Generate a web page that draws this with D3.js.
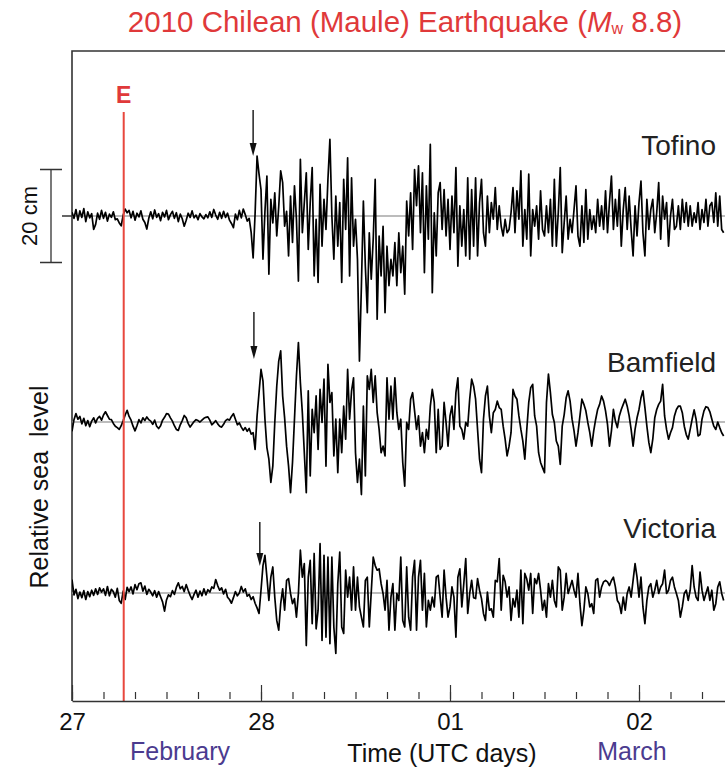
<!DOCTYPE html>
<html>
<head>
<meta charset="utf-8">
<script src="https://cdn.jsdelivr.net/npm/d3@7"></script>
<style>
  body { margin: 0; background: #fff; }
  svg { display: block; font-family: "Liberation Sans", Arial, sans-serif; }
</style>
</head>
<body>
<svg id="chart" width="725" height="770"></svg>
<script>
// Tide gauge records, sea level anomaly in cm, one sample every 15 min from 27 Feb 2010 00:00 UTC
var startTime = Date.UTC(2010, 1, 27, 0, 0);
var stepMinutes = 15;

var tofino = [
  0.8,-0.5,1.4,-0.9,1.1,-0.3,1.6,-1.2,0.9,-0.4,
  0.5,-2.9,-1.8,0.6,-0.7,1.2,-0.5,0.8,-1.1,0.4,
  -0.3,0.9,-0.8,-0.6,-1.5,-2.1,0.2,1.5,0.7,1.2,
  -0.4,1.0,-0.9,0.6,-0.2,1.1,-0.7,-1.4,-2.8,-0.5,
  0.9,-0.6,1.3,-0.3,0.5,-1.0,0.8,-0.2,1.2,-0.8,
  0.3,1.0,-0.5,0.7,-1.2,0.4,-0.6,-2.2,-0.9,0.6,
  -0.3,1.1,-0.4,0.2,-0.8,0.5,-0.2,-0.6,0.3,-0.4,
  0.9,-0.3,1.4,0.2,-0.7,0.8,-0.5,1.0,-0.3,0.6,
  -0.9,-1.6,-2.5,0.4,-0.8,1.2,-0.4,1.5,0.3,-1.1,
  -0.5,-3.5,-9.0,0.5,12.9,9.0,5.7,-9.3,1.0,8.6,
  -12.5,3.6,-1.5,5.0,-4.3,2.0,9.7,7.2,-2.2,1.0,
  -8.6,4.3,-5.7,6.5,-0.7,-14.0,12.2,-3.6,2.9,9.3,
  -7.2,2.9,10.4,-12.9,-0.7,-14.3,6.8,-6.5,3.6,-2.9,
  7.9,16.5,0,-9.3,4.3,-6.5,2.9,-14.3,7.9,-2.9,
  12.5,-12.9,8.2,-6.5,-0.7,-9.3,-31.2,-15.0,3.2,-10.8,
  -20.8,-3.6,-13.6,-5.0,7.9,-22.2,-4.3,-12.9,-2.2,-20.8,
  -6.5,-15.0,-9.3,-12.9,-5.7,-15.0,-3.6,-12.2,-6.5,-16.8,
  3.2,-4.3,5.0,-7.2,10.0,2.2,10.8,-3.6,9.3,-12.2,
  6.5,-5.0,15.4,-16.5,0.7,-8.6,5.0,7.2,-2.9,5.7,
  -4.3,3.6,-7.2,4.3,-3.6,10.4,-10.8,2.2,-6.5,1.4,
  -8.6,8.2,-9.3,5.7,-6.5,8.2,-8.6,2.9,7.9,-3.6,
  -6.5,4.3,-3.6,2.9,-0.7,6.1,-2.9,2.2,-2.2,-4.3,
  -0.7,-3.6,-2.9,0.7,6.1,-3.6,5.4,-0.7,9.7,-6.5,
  1.4,-5.0,9.0,-8.6,1.4,-2.2,2.2,-5.0,5.4,-2.9,
  -4.3,2.2,-3.6,3.6,-6.5,7.9,-6.5,0.7,10.4,-7.9,
  -1.4,4.3,-5.0,-0.7,-3.6,1.4,6.5,-4.3,-6.5,2.2,
  -5.7,5.7,-5.0,1.4,-2.9,0,-3.6,3.6,-2.2,2.2,
  -2.9,5.4,-3.6,2.9,8.6,-2.9,3.6,-2.2,5.7,-6.5,
  1.4,6.1,-2.9,4.3,-2.9,-8.6,2.2,-4.3,2.9,7.5,
  -3.6,-8.6,3.6,-2.9,1.4,3.6,-3.6,0.7,7.2,-5.0,
  4.3,-0.7,2.9,-6.5,0,3.6,-2.9,-2.2,2.2,-2.9,
  3.6,-1.4,2.9,-2.2,2.2,-2.2,0.7,-1.4,2.9,-2.9,
  1.4,-1.4,3.6,-2.2,2.2,2.9,-1.4,5.0,-2.2,4.3,
  -2.9,-3.6
];

var bamfield = [
  -2.0,0.5,1.8,0.6,1.2,-0.4,0.8,-0.8,0.3,-1.0,
  0.2,0.9,-0.2,0.8,1.2,0.4,1.5,2.2,1.4,0.6,
  0.5,-0.3,-0.9,-1.2,-1.6,-0.8,0.3,1.5,2.5,1.2,
  0.4,-0.9,-1.9,-0.8,0.5,-0.2,0.9,0.3,1.1,0.5,
  0.2,-0.5,0.4,-0.9,-1.4,-0.8,0.4,1.0,1.8,1.7,
  0.9,0.2,-0.8,-1.6,-1.8,-0.6,0.3,1.4,0.9,-0.3,
  -1.1,-0.5,0.1,0.5,0.3,0.0,0.4,0.8,1.0,1.1,
  0.4,-0.6,-0.2,0.3,-0.4,-0.9,-1.1,-0.5,0.3,0.6,
  0.4,1.2,1.8,0.6,-0.6,-0.2,-1.1,-1.8,-1.2,-2.0,
  -1.4,-2.6,-2.3,-5.9,1.3,6.3,11.3,8.8,0.6,-5.5,
  -8.0,-13.0,-9.5,-0.1,7.7,13.1,15.3,5.6,0.9,-5.2,
  -9.5,-15.2,-8.7,0.6,9.9,17.1,8.5,2.0,-6.6,-15.2,
  6.7,-11.6,2.7,-2.3,5.6,-5.9,7.0,-0.1,9.2,-9.5,
  12.4,4.2,6.3,-7.3,0.6,-10.9,0.6,-6.6,3.4,-3.7,
  11.3,0.6,6.7,9.5,-6.6,-13.0,-8.0,-15.6,3.4,-11.6,
  9.9,7.0,11.3,4.2,9.9,2.0,-1.6,-6.6,-5.2,-7.3,
  9.5,0.6,7.7,0.6,9.5,2.0,-1.6,0.6,-8.7,-13.8,
  -0.1,-1.6,4.9,6.3,2.4,-1.6,1.3,-5.2,-2.3,-6.6,
  -1.6,-3.7,3.4,7.0,4.2,-6.6,2.7,-5.9,-5.2,4.2,
  -0.1,-5.2,1.3,3.4,-1.6,6.3,9.5,-0.9,-1.6,-3.7,
  -0.1,-0.9,4.9,9.2,7.7,4.9,-1.6,-8.0,-10.9,0.6,
  5.6,7.7,1.3,-2.3,2.0,2.7,4.5,3.1,2.7,-0.9,
  -3.7,-7.3,-5.2,-2.3,7.0,5.6,4.9,1.3,-1.6,-4.1,
  -8.0,-1.6,4.2,7.4,8.1,1.3,-0.9,-6.6,-8.7,-9.8,
  -10.9,4.2,10.3,6.3,1.6,-0.1,-4.1,-5.2,-9.1,-0.9,
  1.6,5.2,6.7,4.5,0.6,-1.9,-5.2,-2.3,1.3,4.9,
  3.8,2.4,-0.1,-2.3,-5.2,-1.9,0.6,2.7,3.8,5.6,
  4.5,2.4,-0.5,-5.2,-1.9,2.7,0.2,-1.2,1.3,2.7,
  3.8,4.9,3.4,1.3,-1.6,-5.2,-1.6,0.9,2.7,5.2,
  6.7,3.1,-0.9,-4.4,-6.6,-3.7,0.9,2.7,3.8,4.5,
  8.1,1.3,-1.6,-3.7,-2.3,-1.2,1.3,2.7,3.4,3.4,
  2.0,-0.9,-2.7,-3.7,-1.6,0.6,2.6,0.6,-3.0,-2.7,
  0.6,2.4,3.3,3.1,2.2,0.6,-0.9,-1.6,0,-1.2,
  -2.3,-3.0
];

var victoria = [
  2.9,-0.4,0.8,-1.2,0.2,-1.0,0.5,-1.4,0.3,-0.8,
  0.6,-0.5,0.9,-0.3,1.1,0.2,0.9,-0.5,1.4,-0.6,
  0.8,0.3,-0.9,1.0,-1.6,-2.2,0.4,-1.4,1.2,0.3,
  1.3,-0.2,1.8,0.7,2.0,2.2,0.4,1.5,-0.3,0.8,
  0.2,-0.6,0.5,-0.9,0.3,-0.8,-1.9,-3.9,-1.5,-0.4,
  -0.8,0.5,-0.3,1.2,2.2,0.9,1.4,0.3,1.8,0.6,
  -0.5,-1.4,-0.3,0.6,-0.9,0.4,-0.6,0.9,-0.4,0.7,
  0.2,1.3,1.0,2.9,1.6,0.6,1.1,-0.2,0.8,-0.9,
  -1.4,-2.2,-1.0,0.3,-0.6,0.0,1.4,0.2,0.9,-0.7,
  -0.3,-1.4,-0.8,-2.2,-3.2,-4.4,0.6,5.9,8.1,3.4,
  -1.6,3.4,5.6,-0.9,-5.9,-8.0,-2.3,0.9,-3.7,2.7,
  3.1,-0.1,-2.3,-1.2,-5.2,-0.1,9.2,3.4,6.3,-11.3,
  3.4,7.0,-6.6,8.5,-7.7,-3.7,10.6,-10.2,8.1,-9.5,
  7.7,-10.9,7.7,-7.3,-13.0,2.0,8.8,-7.3,-8.7,4.9,
  -0.9,3.4,-3.7,5.6,-3.7,3.4,-3.0,-5.2,-7.3,2.7,
  3.4,-7.3,0.2,7.7,5.9,4.9,5.2,2.0,-0.1,-3.7,
  2.7,-8.0,-0.9,2.0,-8.0,-0.1,-1.6,7.7,-5.9,-7.3,
  5.6,-5.2,-8.0,3.4,7.0,-8.0,3.4,7.0,-3.7,4.2,
  -7.3,-1.6,-3.7,-0.9,-3.0,3.4,3.8,-0.9,-5.2,4.9,
  -0.9,-5.2,-3.0,1.3,-0.9,-9.5,3.4,5.2,-3.0,2.0,
  7.4,-4.4,-0.1,2.7,-1.0,-1.2,3.1,0.6,-1.2,-4.4,
  -5.9,0.2,-3.7,-3.4,-5.2,2.7,2.4,7.4,-3.7,3.8,
  2.4,-0.9,1.3,-5.9,-1.2,-3.0,0.6,-5.2,4.9,-6.6,
  4.2,3.0,0.6,4.2,-4.4,3.1,2.0,4.2,0.6,-3.7,
  -1.6,-5.2,2.0,-0.9,2.7,-1.6,-3.0,5.6,4.9,-3.7,
  -0.9,4.2,-0.1,1.3,2.7,0.6,-0.9,4.2,-2.3,-7.0,
  -3.7,1.3,-0.1,-3.0,-2.3,-4.4,2.7,3.1,-0.9,1.3,
  2.4,2.7,2.4,1.6,2.7,3.4,1.3,-1.6,-2.3,-4.4,
  -0.9,-3.7,-0.1,1.3,-0.9,2.7,6.3,3.4,-0.9,3.4,
  -3.0,-6.6,-1.6,1.3,2.0,-0.9,0.6,2.7,-0.1,1.3,
  2.0,4.9,-0.1,0.6,2.7,3.4,1.3,-0.1,-1.6,-5.2,
  -3.0,-0.1,0.6,-1.6,0.6,5.9,1.3,-0.9,-1.6,4.5,
  0.6,-1.6,-0.1,1.3,-1.6,0.6,-3.7,-2.3,1.3,2.4,
  -0.1,-1.6
];

var stationNames = ["Tofino", "Bamfield", "Victoria"];
var stationSeries = [tofino, bamfield, victoria];
// first tsunami wave arrival, hours after 27 Feb 00:00 UTC
var arrivalHours = [23.0, 23.1, 23.85];
// Maule earthquake origin time, 06:34 UTC
var quakeTime = Date.UTC(2010, 1, 27, 6, 34);
var scaleBarCm = 20;

// layout
var plotLeft = 72, plotRight = 725, plotTop = 51, axisY = 701;
var baselineY = [216, 422, 593];
var arrowTopY = [110, 312, 522];
var arrowTipY = [156, 359, 566];
var labelY = [155, 372, 538];

var svg = d3.select("#chart");

var x = d3.scaleUtc()
    .domain([new Date(startTime), new Date(Date.UTC(2010, 2, 2, 11, 0))])
    .range([plotLeft, plotLeft + 189 * (3 + 11 / 24)]);

// relative level: 20 cm spans 93 px
var amp = d3.scaleLinear().domain([0, scaleBarCm]).range([0, -93]);

function timeAt(i) { return new Date(startTime + i * stepMinutes * 60000); }

// Title
var title = svg.append("text")
    .attr("x", 405).attr("y", 32)
    .attr("text-anchor", "middle")
    .attr("font-size", 29.5)
    .attr("fill", "#e0393a");
title.append("tspan").text("2010 Chilean (Maule) Earthquake (");
title.append("tspan").attr("font-style", "italic").text("M");
title.append("tspan").attr("font-size", 16).attr("dy", 2).text("w");
title.append("tspan").attr("dy", -2).text(" 8.8)");

svg.append("clipPath").attr("id", "plotClip")
  .append("rect")
    .attr("x", plotLeft).attr("y", plotTop)
    .attr("width", plotRight - plotLeft).attr("height", axisY - plotTop);

// Frame (left and top edges)
svg.append("path")
    .attr("d", "M" + plotRight + "," + plotTop + "H" + plotLeft + "V" + axisY)
    .attr("fill", "none")
    .attr("stroke", "#333")
    .attr("stroke-width", 1.6);

// Zero level reference lines
svg.selectAll(".zero")
    .data(baselineY)
  .enter().append("line")
    .attr("class", "zero")
    .attr("x1", plotLeft).attr("x2", plotRight)
    .attr("y1", function(d) { return d; })
    .attr("y2", function(d) { return d; })
    .attr("stroke", "#a6a6a6")
    .attr("stroke-width", 1.6);

// Sea level traces
var plot = svg.append("g").attr("clip-path", "url(#plotClip)");

stationSeries.forEach(function(series, s) {
  var line = d3.line()
      .x(function(d, i) { return x(timeAt(i)); })
      .y(function(d) { return baselineY[s] + amp(d); });

  plot.append("path")
      .datum(series)
      .attr("d", line)
      .attr("fill", "none")
      .attr("stroke", "#000")
      .attr("stroke-width", 1.7)
      .attr("stroke-linejoin", "round");
});

// Earthquake marker
var xq = x(new Date(quakeTime));
svg.append("line")
    .attr("x1", xq).attr("x2", xq)
    .attr("y1", 112).attr("y2", axisY)
    .attr("stroke", "#e8473d")
    .attr("stroke-width", 2);

svg.append("text")
    .attr("x", xq).attr("y", 103)
    .attr("text-anchor", "middle")
    .attr("font-size", 23)
    .attr("font-weight", "bold")
    .attr("fill", "#e0393a")
    .text("E");

// Arrival arrows
arrivalHours.forEach(function(h, s) {
  var ax = x(new Date(startTime + h * 3600000));
  svg.append("line")
      .attr("x1", ax).attr("x2", ax)
      .attr("y1", arrowTopY[s]).attr("y2", arrowTipY[s] - 8)
      .attr("stroke", "#111")
      .attr("stroke-width", 1.4);
  svg.append("path")
      .attr("d", "M" + (ax - 3.5) + "," + (arrowTipY[s] - 13) +
                 "L" + (ax + 3.5) + "," + (arrowTipY[s] - 13) +
                 "L" + ax + "," + arrowTipY[s] + "Z")
      .attr("fill", "#111");
});

// Station names
svg.selectAll(".station")
    .data(stationNames)
  .enter().append("text")
    .attr("class", "station")
    .attr("x", 716)
    .attr("y", function(d, i) { return labelY[i]; })
    .attr("text-anchor", "end")
    .attr("font-size", 28)
    .attr("fill", "#222")
    .text(function(d) { return d; });

// Time axis: 4-hour minor ticks, daily major ticks, drawn inward
var minorAxis = d3.axisBottom(x)
    .ticks(d3.utcHour.every(4))
    .tickSize(-7)
    .tickSizeOuter(0)
    .tickFormat("");

var majorAxis = d3.axisBottom(x)
    .ticks(d3.utcDay.every(1))
    .tickSize(-16)
    .tickSizeOuter(0)
    .tickPadding(10)
    .tickFormat(d3.utcFormat("%d"));

var gMinor = svg.append("g").attr("transform", "translate(0," + (axisY - 2) + ")").call(minorAxis);
gMinor.select(".domain").remove();
gMinor.selectAll(".tick line").attr("stroke", "#333").attr("stroke-width", 1.2);

var gMajor = svg.append("g").attr("transform", "translate(0," + axisY + ")").call(majorAxis);
gMajor.select(".domain").attr("stroke", "#333").attr("stroke-width", 1.6);
gMajor.selectAll(".tick line").attr("stroke", "#333").attr("stroke-width", 1.2);
gMajor.selectAll(".tick text")
    .attr("font-family", "Liberation Sans, Arial, sans-serif")
    .attr("font-size", 24)
    .attr("fill", "#111")
    .attr("dy", "0.8em");

// Month names and axis title
svg.append("text")
    .attr("x", 180).attr("y", 760)
    .attr("text-anchor", "middle")
    .attr("font-size", 25)
    .attr("fill", "#4b3b8f")
    .text("February");

svg.append("text")
    .attr("x", 632).attr("y", 760)
    .attr("text-anchor", "middle")
    .attr("font-size", 25)
    .attr("fill", "#4b3b8f")
    .text("March");

svg.append("text")
    .attr("x", 442).attr("y", 762)
    .attr("text-anchor", "middle")
    .attr("font-size", 25)
    .attr("fill", "#111")
    .text("Time (UTC days)");

// Vertical axis label
svg.append("text")
    .attr("transform", "translate(48,487) rotate(-90)")
    .attr("text-anchor", "middle")
    .attr("font-size", 25)
    .attr("fill", "#111")
    .attr("xml:space", "preserve")
    .style("white-space", "pre")
    .text("Relative sea  level");

// 20 cm scale bar next to the Tofino trace
var barTop = baselineY[0] + amp(scaleBarCm / 2),
    barBottom = baselineY[0] + amp(-scaleBarCm / 2);

svg.append("path")
    .attr("d", "M40," + barTop + "H62M51," + barTop + "V" + barBottom + "M40," + barBottom + "H62M62," + baselineY[0] + "H72")
    .attr("fill", "none")
    .attr("stroke", "#333")
    .attr("stroke-width", 1.3);

svg.append("text")
    .attr("transform", "translate(37," + baselineY[0] + ") rotate(-90)")
    .attr("text-anchor", "middle")
    .attr("font-size", 22)
    .attr("fill", "#111")
    .text(scaleBarCm + " cm");
</script>
</body>
</html>
